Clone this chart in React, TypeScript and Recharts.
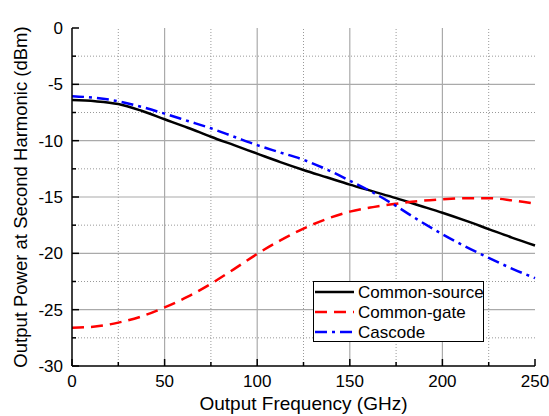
import {
  LineChart,
  Line,
  XAxis,
  YAxis,
  ReferenceLine,
  Label,
} from 'recharts';

// Output frequency (GHz)
const freq = [0, 12.5, 25, 37.5, 50, 62.5, 75, 87.5, 100, 112.5, 125, 137.5, 150, 162.5, 175, 187.5, 200, 212.5, 225, 237.5, 250];

// Output power at second harmonic (dBm)
const commonSource = [-6.4, -6.5, -6.75, -7.35, -8.1, -8.85, -9.65, -10.4, -11.15, -11.9, -12.6, -13.25, -13.9, -14.5, -15.1, -15.75, -16.4, -17.1, -17.85, -18.6, -19.3];
const commonGate = [-26.6, -26.5, -26.15, -25.6, -24.8, -23.85, -22.7, -21.4, -20.05, -18.85, -17.8, -16.95, -16.3, -15.9, -15.6, -15.35, -15.2, -15.1, -15.1, -15.3, -15.6];
const cascode = [-6.05, -6.2, -6.5, -7.0, -7.6, -8.25, -8.9, -9.65, -10.4, -11.05, -11.7, -12.55, -13.55, -14.6, -15.8, -17.1, -18.3, -19.4, -20.4, -21.35, -22.2];

const xTicks = [0, 25, 50, 75, 100, 125, 150, 175, 200, 225, 250];
const yTicks = [0, -2.5, -5, -7.5, -10, -12.5, -15, -17.5, -20, -22.5, -25, -27.5, -30];
const xMajorGrid = [50, 100, 150, 200];
const xMinorGrid = [25, 75, 125, 175, 225];
const yMajorGrid = [-5, -10, -15, -20, -25];
const yMinorGrid = [-2.5, -7.5, -12.5, -17.5, -22.5, -27.5];

const data = freq.map((f, i) => ({
  f,
  cs: commonSource[i],
  cg: commonGate[i],
  cc: cascode[i],
}));

const series = [
  { key: 'cs', name: 'Common-source', color: '#000000', dash: undefined },
  { key: 'cg', name: 'Common-gate', color: '#ff0000', dash: '12 7' },
  { key: 'cc', name: 'Cascode', color: '#0000ff', dash: '12 5 3 5' },
];

const FONT = '"Liberation Sans", Arial, sans-serif';

const isMajorX = (v: number) => v % 50 === 0;
const isMajorY = (v: number) => v % 5 === 0;

// tick marks point into the plot; labels only on major ticks
const BottomTick = (props: any) => {
  const { x, y, payload } = props;
  const major = isMajorX(payload.value);
  return (
    <g>
      <line x1={x} x2={x} y1={y} y2={y - (major ? 7 : 4)} stroke="#000" strokeWidth={1.5} />
      {major && (
        <text x={x} y={y + 21} textAnchor="middle" fontSize={17} fontFamily={FONT} fill="#000">
          {payload.value}
        </text>
      )}
    </g>
  );
};

const TopTick = (props: any) => {
  const { x, y, payload } = props;
  const major = isMajorX(payload.value);
  return <line x1={x} x2={x} y1={y} y2={y + (major ? 7 : 4)} stroke="#000" strokeWidth={1.5} />;
};

const LeftTick = (props: any) => {
  const { x, y, payload } = props;
  const major = isMajorY(payload.value);
  return (
    <g>
      <line x1={x} x2={x + (major ? 7 : 4)} y1={y} y2={y} stroke="#000" strokeWidth={1.5} />
      {major && (
        <text x={x - 9} y={y + 6} textAnchor="end" fontSize={17} fontFamily={FONT} fill="#000">
          {payload.value}
        </text>
      )}
    </g>
  );
};

const RightTick = (props: any) => {
  const { x, y, payload } = props;
  const major = isMajorY(payload.value);
  return <line x1={x} x2={x - (major ? 7 : 4)} y1={y} y2={y} stroke="#000" strokeWidth={1.5} />;
};

const LegendBox = () => (
  <svg width={171} height={61} style={{ display: 'block' }}>
    <rect x={0.5} y={0.5} width={170} height={60} fill="#fff" stroke="#000" strokeWidth={1} />
    {series.map((s, i) => (
      <g key={s.key}>
        <line
          x1={2}
          x2={41}
          y1={11 + i * 20}
          y2={11 + i * 20}
          stroke={s.color}
          strokeWidth={2.5}
          strokeDasharray={s.dash}
        />
        <text x={45} y={17 + i * 20} fontSize={17} fontFamily={FONT} fill="#000">
          {s.name}
        </text>
      </g>
    ))}
  </svg>
);

export default function App() {
  return (
    <div style={{ position: 'absolute', left: 0, top: 0, width: 549, height: 416, background: '#fff' }}>
      <LineChart width={549} height={416} data={data} margin={{ top: 28, right: 14, bottom: 0, left: 0 }}>
        {xMinorGrid.map((v) => (
          <ReferenceLine key={'xm' + v} x={v} stroke="#999" strokeDasharray="1 2" />
        ))}
        {yMinorGrid.map((v) => (
          <ReferenceLine key={'ym' + v} y={v} stroke="#999" strokeDasharray="1 2" />
        ))}
        {xMajorGrid.map((v) => (
          <ReferenceLine key={'xM' + v} x={v} stroke="#aaa" strokeWidth={1.2} />
        ))}
        {yMajorGrid.map((v) => (
          <ReferenceLine key={'yM' + v} y={v} stroke="#aaa" strokeWidth={1.2} />
        ))}
        <XAxis
          dataKey="f"
          type="number"
          domain={[0, 250]}
          ticks={xTicks}
          interval={0}
          height={50}
          tickSize={0}
          tickMargin={0}
          tickLine={false}
          tick={<BottomTick />}
          axisLine={{ stroke: '#000', strokeWidth: 1.5 }}
        >
          <Label
            content={({ viewBox }: any) => (
              <text
                x={viewBox.x + viewBox.width / 2}
                y={viewBox.y + 44}
                textAnchor="middle"
                fontSize={19}
                fontFamily={FONT}
                fill="#000"
              >
                Output Frequency (GHz)
              </text>
            )}
          />
        </XAxis>
        <XAxis
          xAxisId="top"
          orientation="top"
          dataKey="f"
          type="number"
          domain={[0, 250]}
          ticks={xTicks}
          interval={0}
          height={0}
          tickSize={0}
          tickMargin={0}
          tickLine={false}
          tick={<TopTick />}
          axisLine={{ stroke: '#000', strokeWidth: 1.5 }}
        />
        <YAxis
          type="number"
          domain={[-30, 0]}
          ticks={yTicks}
          interval={0}
          width={72}
          tickSize={0}
          tickMargin={0}
          tickLine={false}
          tick={<LeftTick />}
          axisLine={{ stroke: '#000', strokeWidth: 1.5 }}
        >
          <Label
            content={({ viewBox }: any) => {
              const cy = viewBox.y + viewBox.height / 2;
              return (
                <text
                  x={20}
                  y={cy}
                  transform={`rotate(-90, 20, ${cy})`}
                  textAnchor="middle"
                  dominantBaseline="central"
                  fontSize={18.5}
                  fontFamily={FONT}
                  fill="#000"
                >
                  Output Power at Second Harmonic (dBm)
                </text>
              );
            }}
          />
        </YAxis>
        <YAxis
          yAxisId="right"
          orientation="right"
          type="number"
          domain={[-30, 0]}
          ticks={yTicks}
          interval={0}
          width={0}
          tickSize={0}
          tickMargin={0}
          tickLine={false}
          tick={<RightTick />}
          axisLine={{ stroke: '#000', strokeWidth: 1.5 }}
        />
        {series.map((s) => (
          <Line
            key={s.key}
            type="monotone"
            dataKey={s.key}
            name={s.name}
            stroke={s.color}
            strokeWidth={2.5}
            strokeDasharray={s.dash}
            dot={false}
            activeDot={false}
            isAnimationActive={false}
          />
        ))}
      </LineChart>
      <div style={{ position: 'absolute', left: 313, top: 281 }}>
        <LegendBox />
      </div>
    </div>
  );
}
